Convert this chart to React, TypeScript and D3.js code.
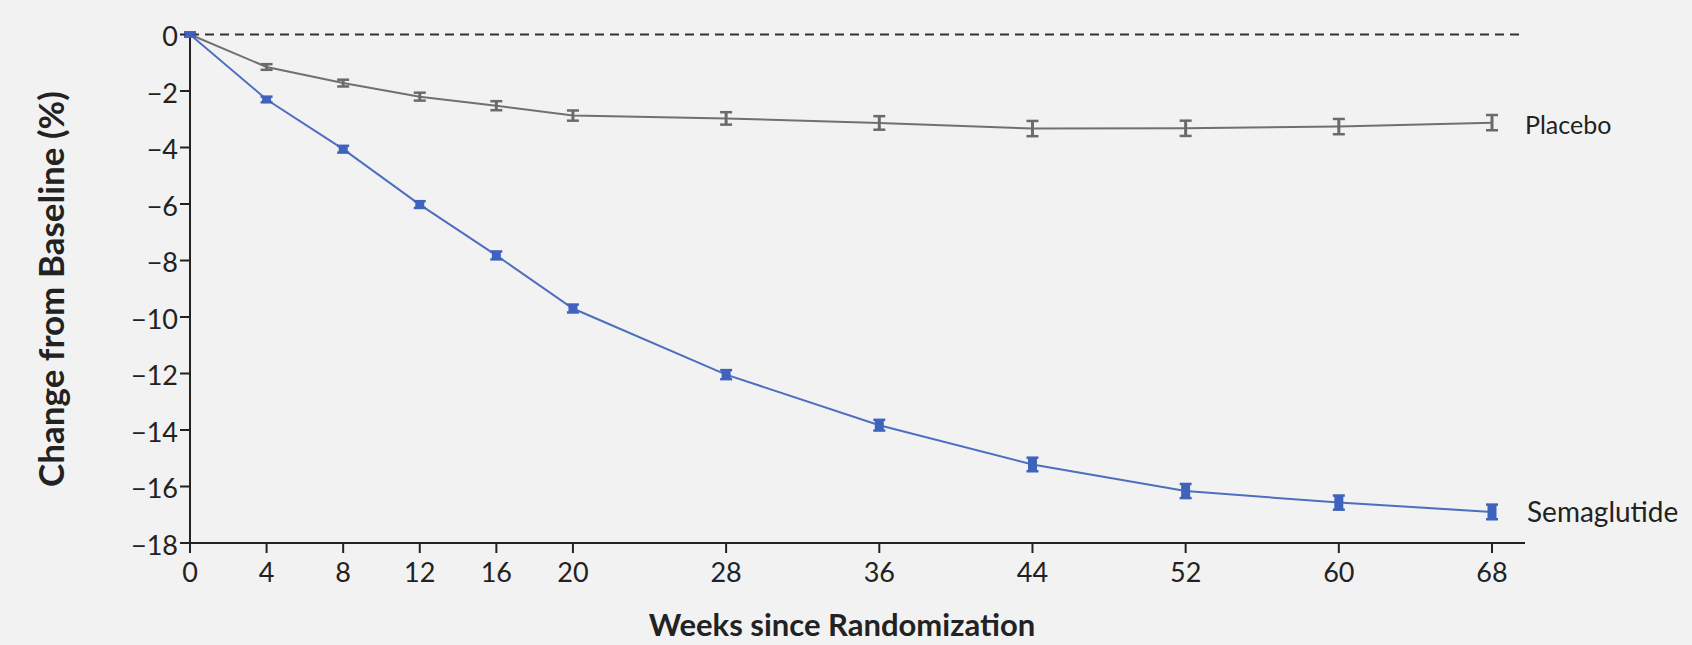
import React, { useEffect } from "react";
import * as d3 from "d3";

const weeks = [0, 4, 8, 12, 16, 20, 28, 36, 44, 52, 60, 68];
const placeboMean = [0, -1.15, -1.72, -2.2, -2.52, -2.87, -2.97, -3.13, -3.33, -3.32, -3.26, -3.12];
const placeboErr = [0.08, 0.1, 0.12, 0.14, 0.16, 0.18, 0.22, 0.24, 0.27, 0.27, 0.27, 0.27];
const semaMean = [0, -2.3, -4.06, -6.02, -7.82, -9.7, -12.04, -13.83, -15.22, -16.16, -16.57, -16.9];
const semaErr = [0.06, 0.1, 0.12, 0.12, 0.14, 0.14, 0.16, 0.19, 0.24, 0.25, 0.25, 0.26];
const yTicks = [0, -2, -4, -6, -8, -10, -12, -14, -16, -18];
const xTicks = [0, 4, 8, 12, 16, 20, 28, 36, 44, 52, 60, 68];
const seriesNames = ["Placebo", "Semaglutide"];

const W = 1692;
const H = 645;
const FONT = "Lato, 'Open Sans', sans-serif";

export default function App() {
  useEffect(() => {
    document.body.style.margin = "0";
    document.body.style.background = "#f2f2f2";
  }, []);

  const x = d3.scaleLinear().domain([0, 68]).range([190, 1492]);
  const y = d3.scaleLinear().domain([0, -18]).range([34.5, 543]);
  const xEnd = 1525;

  const line = d3
    .line<number>()
    .x((_, i) => x(weeks[i]))
    .y((d) => y(d));

  const minus = (v: number) => (v < 0 ? "\u2212" + Math.abs(v) : String(v));

  const errBars = (means: number[], errs: number[], color: string, capW: number, sw: number) =>
    means.map((m, i) => {
      const cx = x(weeks[i]);
      const y1 = y(m + errs[i]);
      const y2 = y(m - errs[i]);
      return (
        <g key={i} stroke={color}>
          <line x1={cx} x2={cx} y1={y1} y2={y2} strokeWidth={sw} />
          <line x1={cx - capW / 2} x2={cx + capW / 2} y1={y1} y2={y1} strokeWidth={2.5} />
          <line x1={cx - capW / 2} x2={cx + capW / 2} y1={y2} y2={y2} strokeWidth={2.5} />
        </g>
      );
    });

  return (
    <svg width={W} height={H} style={{ display: "block", background: "#f2f2f2" }}>
      {/* zero reference line */}
      <line x1={x(0)} x2={xEnd} y1={y(0)} y2={y(0)} stroke="#333" strokeWidth={2} strokeDasharray="9 6" />

      {/* y axis */}
      <line x1={x(0)} x2={x(0)} y1={y(0)} y2={y(-18) + 10} stroke="#222" strokeWidth={2} />
      {yTicks.map((t) => (
        <g key={t}>
          <line x1={x(0) - 10} x2={x(0)} y1={y(t)} y2={y(t)} stroke="#222" strokeWidth={2} />
          <text
            x={x(0) - 12}
            y={y(t) + 1}
            textAnchor="end"
            dominantBaseline="central"
            fontFamily={FONT}
            fontSize={27}
            fill="#222"
          >
            {minus(t)}
          </text>
        </g>
      ))}

      {/* x axis */}
      <line x1={x(0)} x2={xEnd} y1={y(-18)} y2={y(-18)} stroke="#222" strokeWidth={2} />
      {xTicks.map((t) => (
        <g key={t}>
          <line x1={x(t)} x2={x(t)} y1={y(-18)} y2={y(-18) + 10} stroke="#222" strokeWidth={2} />
          <text x={x(t)} y={y(-18) + 39} textAnchor="middle" fontFamily={FONT} fontSize={27} fill="#222">
            {t}
          </text>
        </g>
      ))}

      {/* axis titles */}
      <text
        transform={`translate(64,289) rotate(-90)`}
        textAnchor="middle"
        fontFamily={FONT}
        fontWeight="bold"
        fontSize={35}
        fill="#222"
      >
        Change from Baseline (%)
      </text>
      <text x={842} y={636} textAnchor="middle" fontFamily={FONT} fontWeight="bold" fontSize={31} fill="#222">
        Weeks since Randomization
      </text>

      {/* lines */}
      <path d={line(placeboMean) || ""} fill="none" stroke="#707070" strokeWidth={2} />
      <path d={line(semaMean) || ""} fill="none" stroke="#4d6fbf" strokeWidth={2} />

      {errBars(placeboMean, placeboErr, "#6a6a6a", 12, 3)}
      {errBars(semaMean, semaErr, "#3f63bd", 12, 9)}

      {/* series labels */}
      <text x={1525} y={y(placeboMean[11]) + 1} dominantBaseline="central" fontFamily={FONT} fontSize={25} fill="#222">
        {seriesNames[0]}
      </text>
      <text x={1527} y={y(semaMean[11]) - 1} dominantBaseline="central" fontFamily={FONT} fontSize={28} fill="#222">
        {seriesNames[1]}
      </text>
    </svg>
  );
}
